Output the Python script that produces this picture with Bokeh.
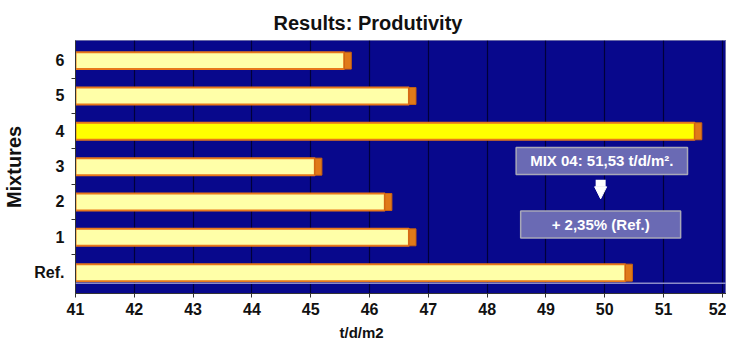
from bokeh.plotting import figure
from bokeh.models import FixedTicker, Label, Arrow, NormalHead, Span, Title
from bokeh.embed import file_html
from bokeh.resources import INLINE

categories = ["Ref.", "1", "2", "3", "4", "5", "6"]
values = [50.35, 46.67, 46.26, 45.07, 51.53, 46.67, 45.57]
highlight = "4"
x_ticks = list(range(41, 53))
title_text = "Results: Produtivity"
x_title = "t/d/m2"
y_title = "Mixtures"
note_top = "MIX 04: 51,53 t/d/m\u00b2."
note_bottom = "+ 2,35% (Ref.)"

ypos = list(range(len(categories)))
fills = ["#FFFF00" if c == highlight else "#FFFFA8" for c in categories]
FONT = "Liberation Sans"

p = figure(width=726, height=345, output_backend="svg", toolbar_location=None,
           x_range=(41, 52.07), y_range=(-0.59, 6.57),
           min_border_left=74, min_border_right=0, min_border_top=40, min_border_bottom=52)

p.title.text = title_text
p.title.align = "left"
p.title.offset = 198
p.title.standoff = 14
p.title.text_font = FONT
p.title.text_font_size = "20px"
p.title.text_font_style = "bold"
p.title.text_color = "#111111"

p.background_fill_color = "#08088C"
p.border_fill_color = "white"
p.outline_line_color = "#6A6AA8"

# grid
p.xgrid.ticker = FixedTicker(ticks=x_ticks)
p.xgrid.grid_line_color = "#00003A"
p.xgrid.grid_line_width = 1.2
p.ygrid.grid_line_color = None

# bars
p.hbar(y=ypos, left=41, right=values, height=0.48, fill_color=fills,
       line_color="#E8781A", line_width=2)
caps = [v + 0.12 for v in values]
p.hbar(y=ypos, left=values, right=caps, height=0.48, fill_color="#E07A18",
       line_color="#C86010", line_width=1)

# x axis
p.xaxis.ticker = FixedTicker(ticks=x_ticks)
p.xaxis.major_label_text_font = FONT
p.xaxis.major_label_text_font_size = "16px"
p.xaxis.major_label_text_font_style = "bold"
p.xaxis.major_label_text_color = "#111111"
p.xaxis.axis_line_color = "#333333"
p.xaxis.major_tick_line_color = "#333333"
p.xaxis.major_tick_out = 4
p.xaxis.major_tick_in = 0
p.xaxis.minor_tick_line_color = None

# y axis
p.yaxis.ticker = FixedTicker(ticks=ypos, minor_ticks=[i + 0.5 for i in ypos[:-1]])
p.yaxis.major_label_overrides = {i: c for i, c in zip(ypos, categories)}
p.yaxis.major_label_text_font = FONT
p.yaxis.major_label_text_font_size = "16px"
p.yaxis.major_label_text_font_style = "bold"
p.yaxis.major_label_text_color = "#111111"
p.yaxis.major_label_standoff = 5
p.yaxis.major_tick_line_color = None
p.yaxis.minor_tick_line_color = "#333333"
p.yaxis.minor_tick_out = 4
p.yaxis.minor_tick_in = 0
p.yaxis.axis_line_color = "#333333"
p.yaxis.axis_label = y_title
p.yaxis.axis_label_text_font = FONT
p.yaxis.axis_label_text_font_size = "20px"
p.yaxis.axis_label_text_font_style = "bold"
p.yaxis.axis_label_text_color = "#111111"
p.yaxis.axis_label_standoff = 6

# x axis title
p.add_layout(Title(text=x_title, align="left", offset=264, text_font=FONT,
                   text_font_size="15px", text_font_style="bold",
                   text_color="#111111", standoff=8), "below")

# floor line
p.add_layout(Span(location=-0.3, dimension="width", line_color="#8C8CC8", line_width=1.5))

# annotations
box_kw = dict(text_align="center", text_baseline="middle", text_font=FONT,
              text_font_size="15px", text_font_style="bold", text_color="white",
              background_fill_color="#6A6AB4", border_line_color="#A8A8B8",
              border_line_width=1.5)
p.add_layout(Label(x=49.95, y=3.16, text=note_top, padding=dict(x=14, y=5), **box_kw))
p.add_layout(Label(x=49.93, y=1.36, text=note_bottom, padding=dict(x=31, y=5), **box_kw))
p.add_layout(Arrow(x_start=49.93, y_start=2.63, x_end=49.93, y_end=2.09,
                   line_color="white", line_width=10,
                   end=NormalHead(size=12, fill_color="white", line_color="white")))

open("out.html", "w").write(file_html(p, INLINE))
